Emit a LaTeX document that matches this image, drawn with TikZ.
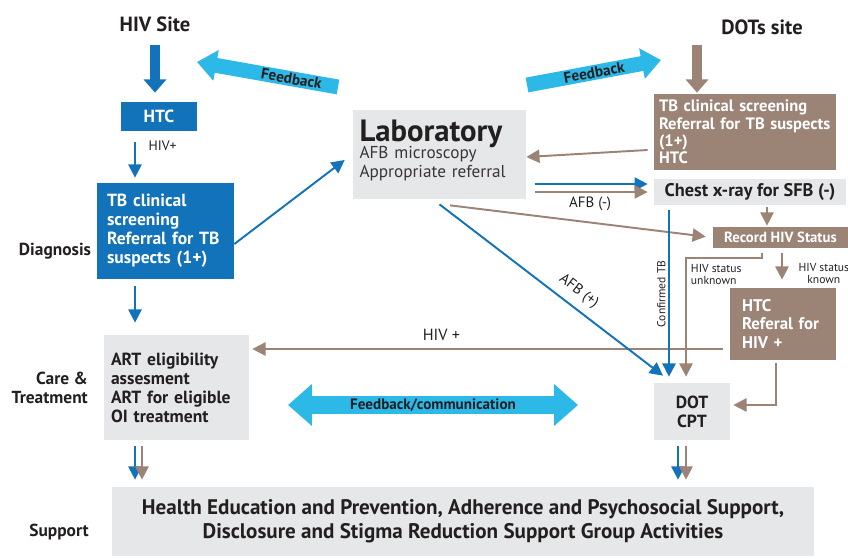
\documentclass[tikz,border=0pt]{standalone}
\usepackage{fontspec}
\setmainfont{PT Sans}
\usetikzlibrary{arrows.meta}

\definecolor{hivblue}{HTML}{1273BB}
\definecolor{dotbrown}{HTML}{9B8375}
\definecolor{feedcyan}{HTML}{2DB9E8}
\definecolor{boxgrey}{HTML}{E6E7E8}
\definecolor{ink}{HTML}{231F20}

\tikzset{
  sitetitle/.style={font=\bfseries\fontsize{11.7}{13}\selectfont, text=ink},
  stagelabel/.style={font=\bfseries\fontsize{9.9}{10.8}\selectfont, text=ink, align=right},
  flowbox/.style={inner sep=0pt, font=\bfseries\fontsize{10}{10.8}\selectfont, align=left},
  hivbox/.style={flowbox, fill=hivblue, text=white},
  dotbox/.style={flowbox, fill=dotbrown, text=white},
  greybox/.style={flowbox, fill=boxgrey, text=ink},
  smallnote/.style={font=\fontsize{6.6}{6.8}\selectfont, text=ink, inner sep=1.5pt},
  linkarrow/.style={line width=1.1pt, -{Triangle[width=7.5pt,length=7.5pt]}},
  hivlink/.style={linkarrow, draw=hivblue},
  dotlink/.style={linkarrow, draw=dotbrown},
  fatlink/.style={line width=5.7pt, -{Triangle[width=12.5pt,length=7.5pt]}},
  feedlink/.style={draw=feedcyan, line width=8.5pt, -{Triangle[width=17pt,length=11pt]}},
  feedtext/.style={font=\bfseries\fontsize{8.7}{9}\selectfont, text=ink, sloped},
}

\begin{document}
\begin{tikzpicture}[x=0.02cm, y=-0.02cm]
\useasboundingbox (0,0) rectangle (848,558);

% sites and stages
\node[sitetitle] (hivsite) at (155,24) {HIV Site};
\node[sitetitle] (dotsite) at (762,27) {DOTs site};
\node[stagelabel] (diagnosis) at (55,251) {Diagnosis};
\node[stagelabel, anchor=east] (care) at (94,388) {Care \&\\Treatment};
\node[stagelabel] (supportlabel) at (59,532) {Support};

% HIV site boxes
\node[hivbox, minimum width=1.52cm, minimum height=0.58cm, align=center] (htc) at (159,116.5) {HTC};
\node[hivbox, minimum width=2.74cm, minimum height=1.92cm, text width=2.34cm] (tbhiv) at (165.5,231) {TB clinical\\screening\\Referral for TB\\suspects (1+)};
\node[greybox, minimum width=2.9cm, minimum height=2.1cm, text width=2.62cm] (art) at (176.5,387.5) {ART eligibility\\assesment\\ART for eligible\\OI treatment};

% laboratory
\node[greybox, minimum width=3.46cm, minimum height=1.78cm, text width=3.2cm, font=\fontsize{9.8}{10.8}\selectfont, text=ink!90] (lab) at (439.5,154.5) {{\bfseries\color{ink}\fontsize{17.5}{18}\selectfont Laboratory}\\[-1pt]AFB microscopy\\Appropriate referral\\[-4pt]\mbox{}};

% DOTs site boxes
\node[dotbox, minimum width=3.64cm, minimum height=1.52cm, text width=3.44cm, font=\bfseries\fontsize{9.4}{9.9}\selectfont] (tbdot) at (745,132) {TB clinical screening\\Referral for TB suspects\\(1+)\\HTC};
\node[greybox, minimum width=3.84cm, minimum height=0.52cm, align=center, font=\bfseries\fontsize{10.4}{11}\selectfont] (chest) at (750,192) {Chest x-ray for SFB (-)};
\node[dotbox, minimum width=2.7cm, minimum height=0.42cm, align=center, font=\bfseries\fontsize{8.4}{9}\selectfont] (record) at (780.5,237.5) {Record HIV Status};
\node[dotbox, minimum width=2.12cm, minimum height=1.44cm, text width=1.64cm, font=\bfseries\fontsize{9.6}{10.8}\selectfont] (htcref) at (783,324) {HTC\\Referal for\\HIV +};
\node[greybox, minimum width=1.52cm, minimum height=1.14cm, align=center] (dot) at (692,411.5) {DOT\\CPT};

% support
\node[greybox, minimum width=14.04cm, minimum height=1.38cm, align=center, font=\bfseries\fontsize{12}{13.6}\selectfont] (support) at (463,521.5) {Health Education and Prevention, Adherence and Psychosocial Support,\\Disclosure and Stigma Reduction Support Group Activities};

% columns and rows for the connectors
\coordinate (hivin) at (155,45);
\coordinate (dotin) at (697,45);
\coordinate (hivcol) at (135,0);
\coordinate (hivcolb) at (142,0);
\coordinate (chestcol) at (767,0);
\coordinate (confcol) at (669,0);
\coordinate (unkturn) at (686,258);
\coordinate (knowncol) at (782,0);
\coordinate (dotcol) at (678,0);
\coordinate (dotcolb) at (686,0);
\coordinate (afbblue) at (0,184);
\coordinate (afbbrown) at (0,192);
\coordinate (hivrow) at (0,349);

% feedback arrows
\coordinate (fbl start) at (338,87);
\coordinate (fbl end) at (197,62);
\draw[feedlink] (fbl start) -- node[feedtext, pos=0.33] {Feedback} (fbl end);
\coordinate (fbr start) at (527,85);
\coordinate (fbr end) at (661,60);
\draw[feedlink] (fbr start) -- node[feedtext, pos=0.5] {Feedback} (fbr end);
\coordinate (fc left) at (288,405);
\coordinate (fc right) at (578,405);
\draw[draw=feedcyan, line width=10.2pt, {Triangle[width=23pt,length=13.6pt]}-{Triangle[width=23pt,length=13.6pt]}] (fc left) -- node[font=\bfseries\fontsize{8.6}{9}\selectfont, text=ink] {Feedback/communication} (fc right);

% HIV site flow
\draw[fatlink, draw=hivblue, shorten >=0.18cm] (hivin) -- (hivin |- htc.north);
\draw[hivlink, shorten <=0.22cm, shorten >=0.1cm] (htc.south -| hivcol) -- node[smallnote, font=\fontsize{7.8}{8}\selectfont, pos=0.28, right=0.2cm] {HIV+} (tbhiv.north -| hivcol);
\draw[hivlink] ([yshift=-0.26cm]tbhiv.east) -- ([xshift=-0.16cm,yshift=-0.11cm]lab.west);
\draw[hivlink, shorten <=0.14cm, shorten >=0.24cm] (tbhiv.south -| hivcol) -- (art.north -| hivcol);
\draw[hivlink, shorten <=0.12cm, shorten >=0.14cm] (art.south -| hivcol) -- (support.north -| hivcol);
\draw[dotlink, shorten <=0.12cm, shorten >=0.14cm] (art.south -| hivcolb) -- (support.north -| hivcolb);

% DOTs site flow
\draw[fatlink, draw=dotbrown, shorten >=0.02cm] (dotin) -- (dotin |- tbdot.north);
\draw[dotlink] ([xshift=-0.12cm,yshift=-0.36cm]tbdot.west) -- ([yshift=-0.05cm]lab.east);
\draw[hivlink, shorten <=0.18cm, shorten >=0.12cm] (lab.east |- afbblue) -- (chest.west |- afbblue);
\draw[dotlink, shorten <=0.18cm, shorten >=0.12cm] (lab.east |- afbbrown) -- node[smallnote, font=\fontsize{8.5}{9}\selectfont, below=0.02cm] {AFB (-)} (chest.west |- afbbrown);
\draw[dotlink, shorten <=0.04cm, shorten >=0.02cm] (chest.south -| chestcol) -- (record.north -| chestcol);
\draw[dotlink, shorten >=0.14cm] ([xshift=0.21cm,yshift=-0.12cm]lab.south) -- (record.west);
\draw[dotlink, shorten >=0.12cm] ([xshift=-0.37cm,yshift=-0.1cm]record.south) |- (unkturn) -- (dot.north -| unkturn);
\node[smallnote, anchor=north west, align=left] (unknown) at ([xshift=0.04cm,yshift=-0.06cm]unkturn) {HIV status\\unknown};
\draw[dotlink, shorten <=0.1cm, shorten >=0.16cm] (record.south -| knowncol) -- node[smallnote, pos=0.65, right=0.26cm, align=center] {HIV status\\known} (htcref.north -| knowncol);
\draw[dotlink, shorten >=0.06cm] ([xshift=-0.14cm,yshift=-0.06cm]htcref.south) |- ([yshift=0.13cm]dot.east);
\draw[dotlink, shorten <=0.14cm, shorten >=0.06cm] (htcref.west |- hivrow) -- node[pos=0.6, above=0.1cm, font=\fontsize{9.2}{10}\selectfont, text=ink, inner sep=1.5pt] {HIV +} (art.east |- hivrow);
\draw[hivlink, shorten <=0.1cm, shorten >=0.12cm] (chest.south -| confcol) -- node[smallnote, pos=0.5, rotate=90, anchor=south] {Confirmed TB} (dot.north -| confcol);
\draw[hivlink] ([yshift=-0.1cm]lab.south) -- node[smallnote, font=\fontsize{8.5}{9}\selectfont, pos=0.58, sloped, above=3pt] {AFB (+)} ([xshift=-0.58cm,yshift=0.14cm]dot.north);
\draw[hivlink, shorten <=0.12cm, shorten >=0.14cm] (dot.south -| dotcol) -- (support.north -| dotcol);
\draw[dotlink, shorten <=0.12cm, shorten >=0.14cm] (dot.south -| dotcolb) -- (support.north -| dotcolb);
\end{tikzpicture}
\end{document}
